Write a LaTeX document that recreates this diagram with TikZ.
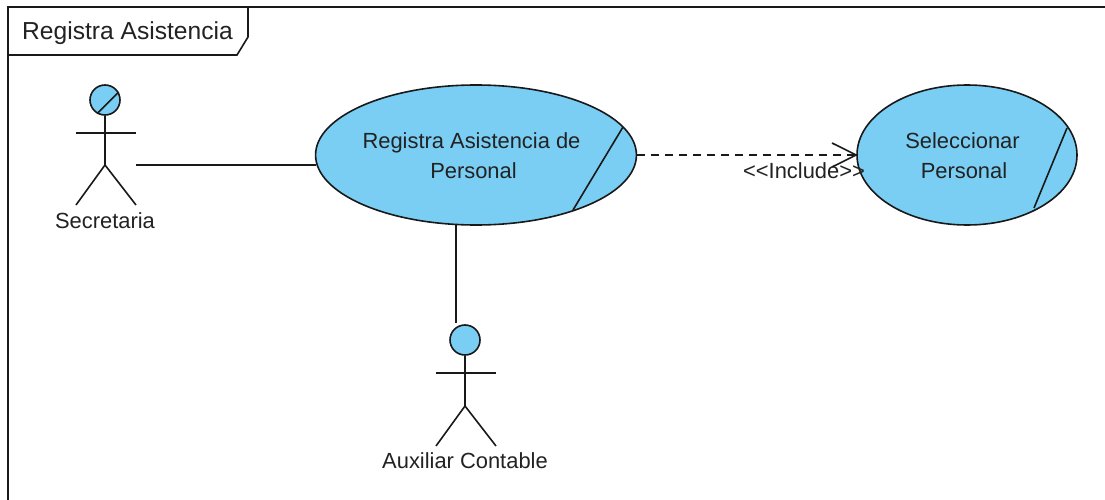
\documentclass[tikz,border=0pt]{standalone}
\usepackage{fontspec}
\setmainfont{Liberation Sans}
\usetikzlibrary{shapes.geometric}
\definecolor{ucfill}{HTML}{7ACEF4}
\definecolor{txt}{HTML}{222222}
\tikzset{
  ln/.style={draw=black!90,line width=1.6pt},
  usecase/.style={shape=ellipse,ln,fill=ucfill,inner sep=0pt,align=center,text=txt,font=\fontsize{21.9}{30}\selectfont},
  lbl/.style={inner sep=0pt,text=txt,font=\fontsize{21.9}{26}\selectfont,align=center},
  head/.style={shape=circle,ln,fill=ucfill,minimum size=30pt,inner sep=0pt},
}
\begin{document}
\begin{tikzpicture}[x=1pt,y=-1pt]
\useasboundingbox (0,0) rectangle (1105,500);
\fill[white] (0,0) rectangle (1105,500);
% frame
\coordinate (ftl) at (8,7);
\coordinate (ftr) at (1105,7);
\coordinate (fbl) at (8,500);
\draw[ln] (fbl) -- (ftl) -- (ftr);
\coordinate (t1) at (248,7);
\coordinate (t2) at (248,37);
\coordinate (t3) at (237,55);
\coordinate (t4) at (8,55);
\draw[ln] (t1) -- (t2) -- (t3) -- (t4);
\node[lbl,font=\fontsize{24.6}{28}\selectfont,anchor=base west] (title) at (22,40) {Registra Asistencia};
% use cases
\node[usecase,minimum width=320pt,minimum height=140pt] (uc1) at (476,155) {\rule{0pt}{18pt}Registra Asistencia de\hspace*{9pt}\\Personal\hspace*{5pt}};
\node[usecase,minimum width=220pt,minimum height=140pt] (uc2) at (967,155) {\rule{0pt}{18pt}Seleccionar\hspace*{9pt}\\Personal\hspace*{6pt}};
\coordinate (s1a) at (623,127);
\coordinate (s1b) at (573,210);
\draw[ln] (s1a) -- (s1b);
\coordinate (s2a) at (1067,128);
\coordinate (s2b) at (1034,208);
\draw[ln] (s2a) -- (s2b);
% actor Secretaria
\node[head] (h1) at (105,100) {};
\draw[ln] (h1.240) -- (h1.30);
\coordinate (b1hip) at (105,165);
\coordinate (b1l) at (76,133);
\coordinate (b1r) at (136,133);
\coordinate (b1fl) at (76,205);
\coordinate (b1fr) at (136,205);
\draw[ln] (h1.south) -- (b1hip);
\draw[ln] (b1l) -- (b1r);
\draw[ln] (b1fl) -- (b1hip) -- (b1fr);
\node[lbl] (l1) at (105,221) {Secretaria};
% actor Auxiliar
\node[head] (h2) at (465,340) {};
\coordinate (b2hip) at (465,406);
\coordinate (b2l) at (436,373);
\coordinate (b2r) at (496,373);
\coordinate (b2fl) at (436,446);
\coordinate (b2fr) at (496,446);
\draw[ln] (h2.south) -- (b2hip);
\draw[ln] (b2l) -- (b2r);
\draw[ln] (b2fl) -- (b2hip) -- (b2fr);
\node[lbl] (l2) at (465,461) {Auxiliar Contable};
% connectors
\coordinate (c1) at (136,165);
\draw[ln] (c1) -- (c1 -| uc1.183.6);
\coordinate (c2) at (456,323);
\draw[ln] (c2 |- uc1.254) -- (c2);
\coordinate (a1) at (832,143);
\coordinate (a2) at (832,167);
\draw[ln,dash pattern=on 8pt off 6pt] (uc1.east) -- (uc2.west);
\draw[ln] (a1) -- (uc2.west) -- (a2);
\node[lbl] (inc) at (804,171) {<{}<Include>{}>};
\end{tikzpicture}
\end{document}
